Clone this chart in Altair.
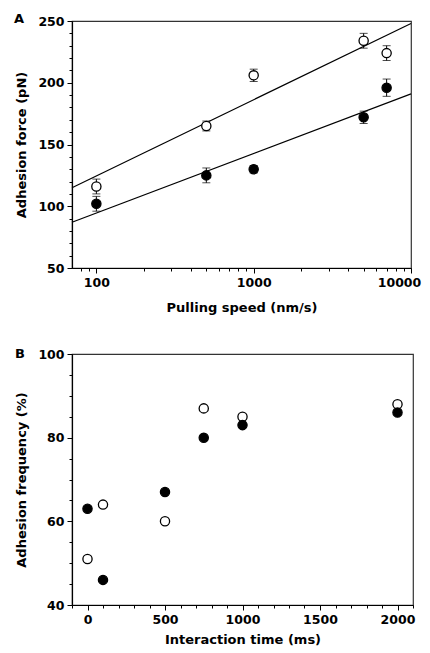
import altair as alt
import pandas as pd

# ---------------- Panel A data ----------------
speed = [100, 500, 1000, 5000, 7000]
force_open = [116, 165, 206, 234, 224]
err_open = [6, 4, 5, 6, 6]
force_filled = [102, 125, 130, 172, 196]
err_filled = [6, 6, 3, 5, 7]

fit_speed = [70, 10000]
fit_open = [115, 248]
fit_filled = [87, 191]

x_major_a = [100, 1000, 10000]
x_minor_a = [80, 90, 200, 300, 400, 500, 600, 700, 800, 900,
             2000, 3000, 4000, 5000, 6000, 7000, 8000, 9000]
y_major_a = [50, 100, 150, 200, 250]
y_minor_a = [60, 70, 80, 90, 110, 120, 130, 140, 160, 170, 180, 190,
             210, 220, 230, 240]

# ---------------- Panel B data ----------------
time_ms = [0, 100, 500, 750, 1000, 2000]
freq_open = [51, 64, 60, 87, 85, 88]
freq_filled = [63, 46, 67, 80, 83, 86]

x_major_b = [0, 500, 1000, 1500, 2000]
x_minor_b = [-100, 100, 200, 300, 400, 600, 700, 800, 900, 1100, 1200, 1300,
             1400, 1600, 1700, 1800, 1900, 2100]
y_major_b = [40, 60, 80, 100]
y_minor_b = [45, 50, 55, 65, 70, 75, 85, 90, 95]

FONT = "DejaVu Sans"


def make_axis(major, minor, title, fmt, title_pad, label_pad=3, last_shift=None):
    test = "indexof(%s, datum.value) >= 0" % str(major)
    kw = {}
    if last_shift is not None:
        kw["labelOffset"] = {"condition": {"test": "datum.value == %s" % major[-1],
                                           "value": last_shift}, "value": 0}
    return alt.Axis(
        values=major + minor,
        title=title,
        format=fmt,
        labelExpr="%s ? format(datum.value, '%s') : ''" % (test, fmt),
        tickSize={"condition": {"test": test, "value": 5}, "value": 3},
        labelOverlap=False,
        labelFlush=False,
        grid=False,
        titlePadding=title_pad,
        labelPadding=label_pad,
        **kw,
    )


# ---------------- Panel A ----------------
dfA = pd.DataFrame({
    "speed": speed * 2,
    "force": force_open + force_filled,
    "err": err_open + err_filled,
    "kind": ["open"] * len(speed) + ["filled"] * len(speed),
})
dfA["lo"] = dfA["force"] - dfA["err"]
dfA["hi"] = dfA["force"] + dfA["err"]

dfFit = pd.DataFrame({
    "speed": fit_speed * 2,
    "force": fit_open + fit_filled,
    "kind": ["open"] * 2 + ["filled"] * 2,
})

xA = alt.X("speed:Q", scale=alt.Scale(type="log", domain=[70, 10000], nice=False),
           axis=make_axis(x_major_a, x_minor_a, "Pulling speed (nm/s)", "d", 13, last_shift=-12))
yA_axis = make_axis(y_major_a, y_minor_a, "Adhesion force (pN)", "d", 9)
yA_scale = alt.Scale(domain=[50, 250], nice=False)

fitA = alt.Chart(dfFit).mark_line(color="black", strokeWidth=1.2).encode(
    x=xA, y=alt.Y("force:Q", scale=yA_scale, axis=yA_axis), detail="kind:N")

barsA = alt.Chart(dfA).mark_rule(color="black", strokeWidth=1).encode(
    x=xA, y=alt.Y("lo:Q", scale=yA_scale, axis=yA_axis), y2="hi:Q")
capLoA = alt.Chart(dfA).mark_tick(color="black", orient="horizontal", size=8, thickness=1).encode(
    x=xA, y=alt.Y("lo:Q", scale=yA_scale, axis=yA_axis))
capHiA = alt.Chart(dfA).mark_tick(color="black", orient="horizontal", size=8, thickness=1).encode(
    x=xA, y=alt.Y("hi:Q", scale=yA_scale, axis=yA_axis))

ptsA = alt.Chart(dfA).mark_point(shape="circle", size=85, filled=True, strokeWidth=1.3,
                                 stroke="black", opacity=1).encode(
    x=xA, y=alt.Y("force:Q", scale=yA_scale, axis=yA_axis),
    fill=alt.Fill("kind:N", scale=alt.Scale(domain=["open", "filled"], range=["white", "black"]),
                  legend=None))

labelA = alt.Chart(pd.DataFrame({"t": ["A"]})).mark_text(
    font=FONT, fontWeight="bold", fontSize=13, align="center", baseline="alphabetic",
    color="black").encode(text="t:N", x=alt.value(-53), y=alt.value(2))

panelA = alt.layer(fitA, barsA, capLoA, capHiA, ptsA, labelA).properties(width=339, height=247)

# ---------------- Panel B ----------------
dfB = pd.DataFrame({
    "time": time_ms * 2,
    "freq": freq_open + freq_filled,
    "kind": ["open"] * len(time_ms) + ["filled"] * len(time_ms),
})

ptsB = alt.Chart(dfB).mark_point(shape="circle", size=85, filled=True, strokeWidth=1.3,
                                 stroke="black", opacity=1).encode(
    x=alt.X("time:Q", scale=alt.Scale(domain=[-100, 2100], nice=False),
            axis=make_axis(x_major_b, x_minor_b, "Interaction time (ms)", "d", 8)),
    y=alt.Y("freq:Q", scale=alt.Scale(domain=[40, 100], nice=False),
            axis=make_axis(y_major_b, y_minor_b, "Adhesion frequency (%)", "d", 9)),
    fill=alt.Fill("kind:N", scale=alt.Scale(domain=["open", "filled"], range=["white", "black"]),
                  legend=None))

labelB = alt.Chart(pd.DataFrame({"t": ["B"]})).mark_text(
    font=FONT, fontWeight="bold", fontSize=13, align="center", baseline="middle",
    color="black").encode(text="t:N", x=alt.value(-52), y=alt.value(0))

panelB = alt.layer(ptsB, labelB).properties(width=341, height=251)

chart = alt.vconcat(panelA, panelB, spacing=31).resolve_scale(fill="independent").properties(
    padding={"left": 5, "top": 4, "right": 0, "bottom": 0}
).configure_view(
    stroke="#333333", strokeWidth=1.2
).configure_axis(
    domainColor="black", domainWidth=1.2, tickColor="black", tickWidth=1,
    labelFont=FONT, labelFontWeight="bold", labelFontSize=12.5, labelColor="black",
    titleFont=FONT, titleFontWeight="bold", titleFontSize=13, titleColor="black",
)

chart.save("out.html", embed_options={"renderer": "svg", "actions": False})
